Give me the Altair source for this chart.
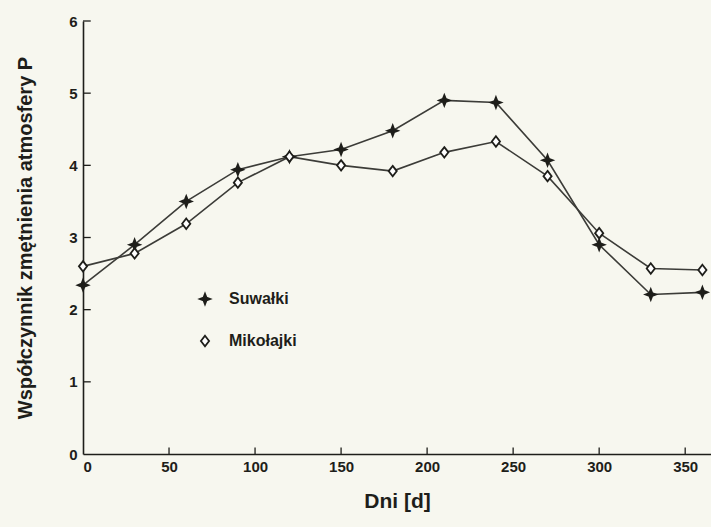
import altair as alt
import pandas as pd

days = [0, 30, 60, 90, 120, 150, 180, 210, 240, 270, 300, 330, 360]
suwalki = [2.34, 2.90, 3.50, 3.94, 4.12, 4.22, 4.48, 4.90, 4.87, 4.07, 2.90, 2.21, 2.24]
mikolajki = [2.60, 2.78, 3.19, 3.76, 4.12, 4.00, 3.92, 4.18, 4.33, 3.85, 3.06, 2.57, 2.55]
series_names = ["Suwałki", "Mikołajki"]
x_ticks = [50, 100, 150, 200, 250, 300, 350]
y_ticks = [1, 2, 3, 4, 5, 6]

rows = []
for d, a, b in zip(days, suwalki, mikolajki):
    rows.append({"dzien": d, "P": a, "stacja": series_names[0]})
    rows.append({"dzien": d, "P": b, "stacja": series_names[1]})
df = pd.DataFrame(rows)

FONT = "Liberation Sans"
INK = "#1e1e1a"
LINE = "#3c3c38"
BG = "#f7f7ef"

xs = alt.Scale(domain=[0, 365], nice=False, zero=True)
ys = alt.Scale(domain=[0, 6], nice=False)

star = "M0,-1L0.28,-0.28L1,0L0.28,0.28L0,1L-0.28,0.28L-1,0L-0.28,-0.28Z"
diamond = "M0,-1L0.78,0L0,1L-0.78,0Z"

lines = alt.Chart(df).mark_line(color=LINE, strokeWidth=1.6).encode(
    x=alt.X("dzien:Q", scale=xs,
            axis=alt.Axis(values=[0] + x_ticks, format="d", title="Dni [d]", grid=False, ticks=False,
                          labelPadding=5, titlePadding=16, labelFontSize=15,
                          labelFontWeight="bold", titleFontSize=21)),
    y=alt.Y("P:Q", scale=ys,
            axis=alt.Axis(values=[0] + y_ticks, format="d", title="Współczynnik zmętnienia atmosfery P",
                          grid=False, ticks=False, labelPadding=6, titlePadding=33,
                          labelFontSize=15, labelFontWeight="bold", titleFontSize=20)),
    detail="stacja:N",
)

leg = alt.Legend(title=None, orient="none", legendX=114, legendY=270,
                 labelFontSize=16, labelFontWeight="bold",
                 rowPadding=24, symbolSize=110, symbolStrokeWidth=1.8,
                 labelOffset=16, labelFont=FONT)

points = alt.Chart(df).mark_point(size=110, strokeWidth=1.8, opacity=1).encode(
    x=alt.X("dzien:Q", scale=xs),
    y=alt.Y("P:Q", scale=ys),
    shape=alt.Shape("stacja:N", scale=alt.Scale(domain=series_names, range=[star, diamond]),
                    legend=leg),
    fill=alt.Fill("stacja:N", scale=alt.Scale(domain=series_names, range=[INK, "white"]),
                  legend=leg),
    stroke=alt.Stroke("stacja:N", scale=alt.Scale(domain=series_names, range=[INK, INK]),
                      legend=leg),
)

xt = pd.DataFrame({"t": x_ticks, "y0": [0] * len(x_ticks), "y1": [0.09] * len(x_ticks)})
xtick = alt.Chart(xt).mark_rule(color=INK, strokeWidth=1.3).encode(
    x=alt.X("t:Q", scale=xs), y=alt.Y("y0:Q", scale=ys), y2="y1:Q")

yt = pd.DataFrame({"t": y_ticks, "x0": [0] * len(y_ticks), "x1": [4.5] * len(y_ticks)})
ytick = alt.Chart(yt).mark_rule(color=INK, strokeWidth=1.3).encode(
    y=alt.Y("t:Q", scale=ys), x=alt.X("x0:Q", scale=xs), x2="x1:Q")

chart = alt.layer(lines, xtick, ytick, points).properties(
    width=628, height=433,
    autosize=alt.AutoSizeParams(type="none"),
    padding={"left": 83, "top": 21, "right": 0, "bottom": 73},
    background=BG,
).configure_view(stroke=None).configure_axis(
    domainColor=INK, domainWidth=1.6, labelColor=INK, titleColor=INK,
    labelFont=FONT, titleFont=FONT, titleFontWeight="bold",
).configure_legend(labelColor=INK)

chart.save("out.html", embed_options={"renderer": "svg", "actions": False})
